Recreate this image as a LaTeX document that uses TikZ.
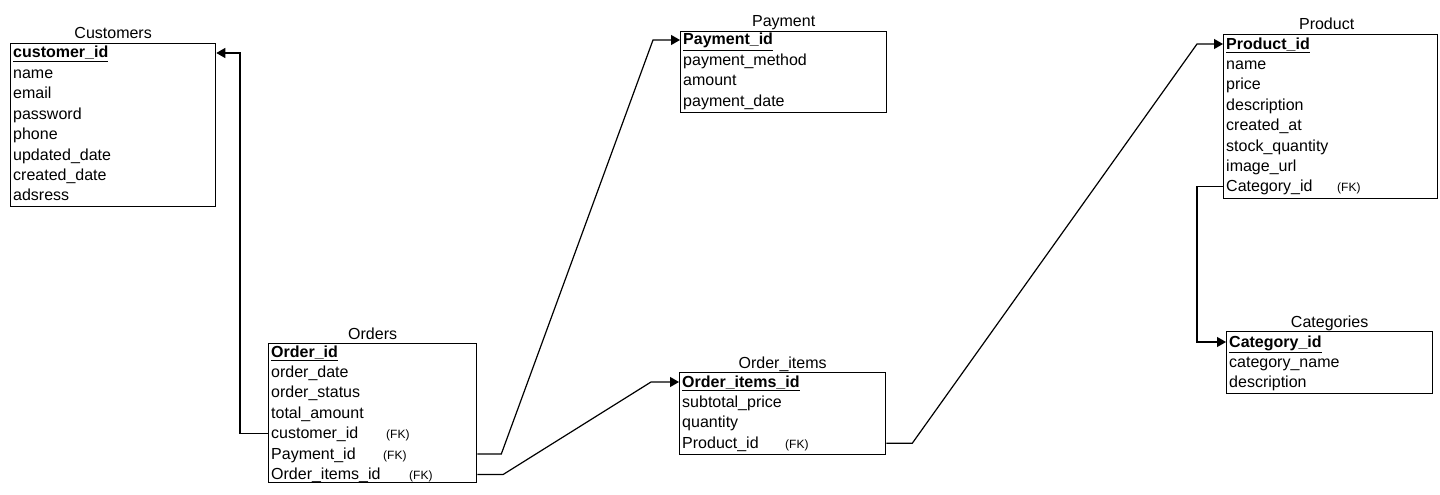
\documentclass[tikz,border=0pt]{standalone}
\usepackage{fontspec}
\setmainfont{Liberation Sans}
\usetikzlibrary{arrows.meta,calc}
\begin{document}
\begin{tikzpicture}[x=1pt,y=-1pt,
  tbl/.style={draw=black, line width=1.3pt, inner sep=0pt, anchor=north west},
  ttl/.style={font=\fontsize{16}{18}\selectfont, anchor=base, inner sep=0pt},
  fld/.style={font=\fontsize{16}{18}\selectfont, anchor=base west, inner sep=0pt, text height=12pt, text depth=2pt},
  fk/.style={font=\fontsize{12}{14}\selectfont, anchor=base west, inner sep=0pt},
  conn/.style={draw=black, line width=1.2pt},
  arr/.style={conn, -{Triangle[length=9pt,width=10pt]}}]
\useasboundingbox[fill=white] (0,0) rectangle (1440,495);

% Customers
\node[tbl, minimum width=205pt, minimum height=163pt] (cust) at (10,43) {};
\node[ttl] (cust-t) at ($(cust.north)+(0,-4)$) {Customers};
\foreach \t [count=\i] in {\underline{\textbf{customer\_id}},name,email,password,phone,updated\_date,created\_date,adsress}
  \node[fld] (cust-\i) at (13,{58+20.4*(\i-1)}) {\t};

% Orders
\node[tbl, minimum width=208pt, minimum height=139pt] (ord) at (268,343) {};
\node[ttl] (ord-t) at ($(ord.north)+(0,-4)$) {Orders};
\foreach \t [count=\i] in {\underline{\textbf{Order\_id}},order\_date,order\_status,total\_amount,customer\_id,Payment\_id,Order\_items\_id}
  \node[fld] (ord-\i) at (271,{357+20.4*(\i-1)}) {\t};
\node[fk] (ord-fk5) at (386,438.6) {(FK)};
\node[fk] (ord-fk6) at (383,459) {(FK)};
\node[fk] (ord-fk7) at (409,479.4) {(FK)};

% Payment
\node[tbl, minimum width=206pt, minimum height=81pt] (pay) at (680,31) {};
\node[ttl] (pay-t) at ($(pay.north)+(0,-4)$) {Payment};
\foreach \t [count=\i] in {\underline{\textbf{Payment\_id}},payment\_method,amount,payment\_date}
  \node[fld] (pay-\i) at (683,{45+20.4*(\i-1)}) {\t};

% Order_items
\node[tbl, minimum width=206pt, minimum height=82pt] (oi) at (679,372) {};
\node[ttl] (oi-t) at ($(oi.north)+(0,-4)$) {Order\_items};
\foreach \t [count=\i] in {\underline{\textbf{Order\_items\_id}},subtotal\_price,quantity,Product\_id}
  \node[fld] (oi-\i) at (682,{387+20.4*(\i-1)}) {\t};
\node[fk] (oi-fk4) at (785,448.2) {(FK)};

% Product
\node[tbl, minimum width=214pt, minimum height=164pt] (prod) at (1223,34) {};
\node[ttl] (prod-t) at ($(prod.north)+(-4,-4)$) {Product};
\foreach \t [count=\i] in {\underline{\textbf{Product\_id}},name,price,description,created\_at,stock\_quantity,image\_url,Category\_id}
  \node[fld] (prod-\i) at (1226,{49+20.4*(\i-1)}) {\t};
\node[fk] (prod-fk8) at (1337,191.8) {(FK)};

% Categories
\node[tbl, minimum width=206pt, minimum height=62pt] (cat) at (1226,331) {};
\node[ttl] (cat-t) at ($(cat.north)+(0,-4)$) {Categories};
\foreach \t [count=\i] in {\underline{\textbf{Category\_id}},category\_name,description}
  \node[fld] (cat-\i) at (1229,{347+20.4*(\i-1)}) {\t};

% Connectors
\draw[arr] (ord.west |- ord-5) -- ++(-28,0) |- (cust.east |- cust-1);
\draw[arr] (ord.east |- ord-6) -- ++(24,0) -- ($(pay.west |- pay-1)+(-27,0)$) -- (pay.west |- pay-1);
\draw[arr] (ord.east |- ord-7) -- ++(26,0) -- ($(oi.west |- oi-1)+(-28,0)$) -- (oi.west |- oi-1);
\draw[arr] (oi.east |- oi-4) -- ++(26,0) -- ($(prod.west |- prod-1)+(-26,0)$) -- (prod.west |- prod-1);
\draw[arr] (prod.west |- prod-8) -- ++(-26,0) |- (cat.west |- cat-1);
\end{tikzpicture}
\end{document}
